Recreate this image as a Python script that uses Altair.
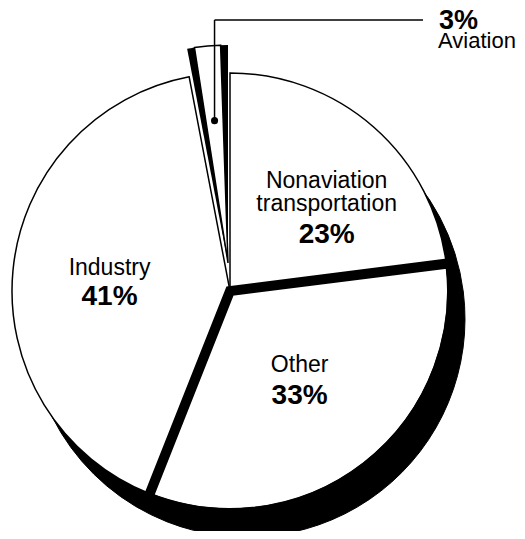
import math
import altair as alt
import pandas as pd

# ---- data ----
categories = ["Nonaviation transportation", "Other", "Industry", "Aviation"]
label_names = ["Nonaviation\ntransportation", "Other", "Industry", "Aviation"]
shares = [23, 33, 41, 3]
order = [0, 1, 2, 3]

df = pd.DataFrame({"category": categories, "name": label_names,
                   "share": shares, "order": order})
total = sum(shares)

# ---- layout (chart coords = page coords - 8) ----
W, H = 509, 523
R = 218
CX, CY = 222, 283            # main pie centre
SX, SY = CX + 17, CY + 28    # shadow centre
AX, AY = CX - 2, CY - 28     # exploded aviation slice centre
FONT = "Liberation Sans"

theta_scale = alt.Scale(domain=[0, total], range=[0, 2 * math.pi])

base = (alt.Chart(df)
        .transform_stack(stack="share", groupby=[], as_=["v0", "v1"],
                         sort=[alt.SortField("order")])
        .transform_calculate(mid="(datum.v0 + datum.v1) / 2",
                             pct="datum.share + '%'"))

def arc_enc(cx, cy):
    return dict(theta=alt.Theta("v0:Q", scale=theta_scale),
                theta2="v1:Q", x=alt.value(cx), y=alt.value(cy))

not_av = alt.datum.category != "Aviation"
is_av = alt.datum.category == "Aviation"

shadow = base.transform_filter(not_av).mark_arc(
    radius=R, fill="black", stroke="black", strokeWidth=1).encode(**arc_enc(SX, SY))

white = base.mark_arc(radius=R, fill="white", strokeWidth=0).encode(**arc_enc(CX, CY))

outline = base.transform_filter(not_av).mark_arc(
    radius=R, fillOpacity=0, stroke="black", strokeWidth=1.5).encode(**arc_enc(CX, CY))

thick = base.transform_filter(alt.datum.category == "Other").mark_arc(
    radius=R + 4, fillOpacity=0, stroke="black", strokeWidth=10).encode(**arc_enc(CX, CY))

av_black = base.transform_filter(is_av).mark_arc(
    radius=R, fill="black").encode(**arc_enc(AX, AY))

av_face = base.transform_filter(is_av).mark_arc(
    radius=R, fill="white", stroke="black", strokeWidth=1.5,
    padAngle=0.068).encode(**arc_enc(AX, AY))

# labels placed in polar coords at each slice's mid angle
label_style = {
    "Nonaviation transportation": dict(dx=14, dn=-9, dp=46),
    "Other": dict(dx=-7, dn=-18, dp=14),
    "Industry": dict(dx=4, dn=-4, dp=26),
}
labels = []
for cat, s in label_style.items():
    sub = base.transform_filter(alt.datum.category == cat)
    enc = dict(theta=alt.Theta("mid:Q", scale=theta_scale),
               x=alt.value(CX), y=alt.value(CY))
    labels.append(sub.mark_text(radius=125, dx=s["dx"], dy=s["dn"], font=FONT,
                                fontSize=23, lineBreak="\n", lineHeight=23,
                                baseline="alphabetic", align="center",
                                color="black").encode(text="name:N", **enc))
    labels.append(sub.mark_text(radius=125, dx=s["dx"], dy=s["dp"], font=FONT,
                                fontSize=28, fontWeight="bold",
                                baseline="alphabetic", align="center",
                                color="black").encode(text="pct:N", **enc))

# leader for the aviation slice
av_mid = (sum(shares[:3]) + total) / 2 / total * 2 * math.pi
DOT_R = 143
dot_x = AX + DOT_R * math.sin(av_mid)
dot_y = AY - DOT_R * math.cos(av_mid)
LEAD_TOP = 12
LEAD_END = 415
LBL_X = 430

av_base = base.transform_filter(is_av)
lead_v = av_base.mark_rule(color="black", strokeWidth=1.5).encode(
    x=alt.value(dot_x), y=alt.value(LEAD_TOP), y2=alt.value(dot_y))
lead_h = av_base.mark_rule(color="black", strokeWidth=1.5).encode(
    x=alt.value(dot_x), x2=alt.value(LEAD_END), y=alt.value(LEAD_TOP))
dot = av_base.mark_circle(size=50, color="black", opacity=1).encode(
    x=alt.value(dot_x), y=alt.value(dot_y))
av_pct = av_base.mark_text(font=FONT, fontSize=27, fontWeight="bold", align="left",
                           baseline="alphabetic", color="black").encode(
    text="pct:N", x=alt.value(LBL_X + 1), y=alt.value(21))
av_name = av_base.mark_text(font=FONT, fontSize=22, align="left",
                            baseline="alphabetic", color="black").encode(
    text="category:N", x=alt.value(LBL_X), y=alt.value(40))

chart = alt.layer(shadow, white, outline, thick, av_black, av_face,
                  *labels, lead_v, lead_h, dot, av_pct, av_name).properties(
    width=W, height=H, autosize=alt.AutoSizeParams(type="none"),
    padding=0, background="white"
).configure_view(stroke=None)

chart.save("out.html", embed_options={"renderer": "svg", "actions": False})
